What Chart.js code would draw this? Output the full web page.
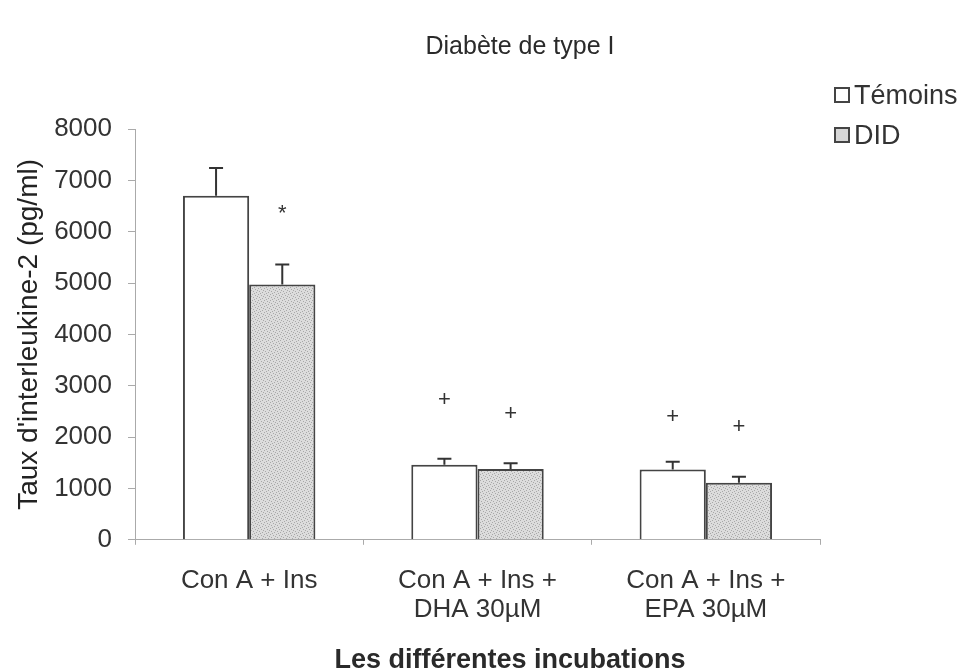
<!DOCTYPE html>
<html>
<head>
<meta charset="utf-8">
<script src="https://cdn.jsdelivr.net/npm/chart.js@4"></script>
<style>
  body { margin: 0; background: #fff; }
  #wrap { position: relative; width: 966px; height: 670px; font-family: "Liberation Sans", Arial, sans-serif; color: #2a2a2a; }
  .txt { position: absolute; white-space: nowrap; transform: translate(-50%, -50%); }
  .leg { position: absolute; left: 834px; font-size: 27px; color: #333; white-space: nowrap; }
  .leg span { display: inline-block; width: 12px; height: 12px; border: 2px solid #444; margin-right: 4px; vertical-align: 1px; }
</style>
</head>
<body>
<div id="wrap">
  <canvas id="chart" width="966" height="670"></canvas>
  <div class="txt" style="left:520px; top:45px; font-size:25px;">Diabète de type I</div>
  <div class="txt" style="left:510px; top:659px; font-size:27px; font-weight:bold;">Les différentes incubations</div>
  <div class="leg" style="top:80px"><span style="background:#fff"></span>Témoins</div>
  <div class="leg" style="top:120px"><span style="background:#d6d6d6"></span>DID</div>
</div>
<script>
const categories = [["Con A + Ins"], ["Con A + Ins +", "DHA 30\u00b5M"], ["Con A + Ins +", "EPA 30\u00b5M"]];
const temoins = [6700, 1460, 1370];
const temoinsErr = [540, 120, 150];
const did = [4970, 1380, 1110];
const didErr = [390, 110, 120];
// significance marks: symbol and the value where it sits
const temoinsMarks = [null, 2730, 2400];
const didMarks = [6420, 2460, 2200];
const didSymbols = ["*", "+", "+"];
const yTicks = [0, 1000, 2000, 3000, 4000, 5000, 6000, 7000, 8000];

const font = '"Liberation Sans", Arial, sans-serif';

// stippled grey fill for the DID bars
function stipple() {
    const c = document.createElement("canvas");
    c.width = 6;
    c.height = 6;
    const g = c.getContext("2d");
    g.fillStyle = "#dcdcdc";
    g.fillRect(0, 0, 6, 6);
    g.fillStyle = "#a8a8a8";
    [[0, 0], [3, 1], [1, 3], [4, 4], [5, 2], [2, 5]].forEach(p => g.fillRect(p[0], p[1], 1, 1));
    return g.createPattern(c, "repeat");
}

const errorBars = {
    id: "errorBars",
    afterDatasetsDraw(chart) {
        const ctx = chart.ctx;
        const y = chart.scales.y;
        const sets = [[temoins, temoinsErr, temoinsMarks, ["+", "+", "+"]], [did, didErr, didMarks, didSymbols]];
        ctx.save();
        sets.forEach((s, i) => {
            chart.getDatasetMeta(i).data.forEach((bar, j) => {
                const top = y.getPixelForValue(s[0][j] + s[1][j]);
                ctx.strokeStyle = "#333";
                ctx.lineWidth = 2;
                ctx.beginPath();
                ctx.moveTo(bar.x, bar.y);
                ctx.lineTo(bar.x, top);
                ctx.moveTo(bar.x - 7, top);
                ctx.lineTo(bar.x + 7, top);
                ctx.stroke();
                if (s[2][j] != null) {
                    ctx.fillStyle = "#333";
                    ctx.font = "22px " + font;
                    ctx.textAlign = "center";
                    ctx.textBaseline = "middle";
                    ctx.fillText(s[3][j], bar.x, y.getPixelForValue(s[2][j]) + (s[3][j] === "*" ? 4 : 0));
                }
            });
        });
        ctx.restore();
    }
};

new Chart(document.getElementById("chart"), {
    type: "bar",
    data: {
        labels: categories,
        datasets: [
            {
                label: "Témoins",
                data: temoins,
                backgroundColor: "#ffffff",
                borderColor: "#444",
                borderWidth: 2,
                borderSkipped: "bottom",
            },
            {
                label: "DID",
                data: did,
                backgroundColor: stipple(),
                borderColor: "#444",
                borderWidth: 2,
                borderSkipped: "bottom",
            },
        ],
    },
    options: {
        responsive: false,
        animation: false,
        layout: { padding: { left: 12, right: 146, top: 129, bottom: 24 } },
        datasets: { bar: { categoryPercentage: 0.58, barPercentage: 1 } },
        scales: {
            y: {
                min: 0,
                max: 8000,
                afterBuildTicks: axis => { axis.ticks = yTicks.map(v => ({ value: v })); },
                afterFit: axis => { axis.width = 123; },
                border: { color: "#aaa", width: 1, dash: [5, 3] },
                grid: { drawOnChartArea: false, tickLength: 7, color: "#aaa" },
                ticks: { color: "#333", padding: 16, callback: v => String(v), font: { family: font, size: 26 } },
                title: {
                    display: true,
                    text: "Taux d'interleukine-2 (pg/ml)",
                    color: "#222",
                    padding: { top: 0, bottom: 0 },
                    font: { family: font, size: 28 },
                },
            },
            x: {
                border: { color: "#aaa", width: 1, dash: [5, 3] },
                grid: { drawOnChartArea: false, tickLength: 5, color: "#aaa" },
                ticks: { color: "#333", padding: 22, font: { family: font, size: 26, lineHeight: 1.1 } },
            },
        },
        plugins: {
            legend: { display: false },
            tooltip: { enabled: false },
        },
    },
    plugins: [errorBars],
});
</script>
</body>
</html>
